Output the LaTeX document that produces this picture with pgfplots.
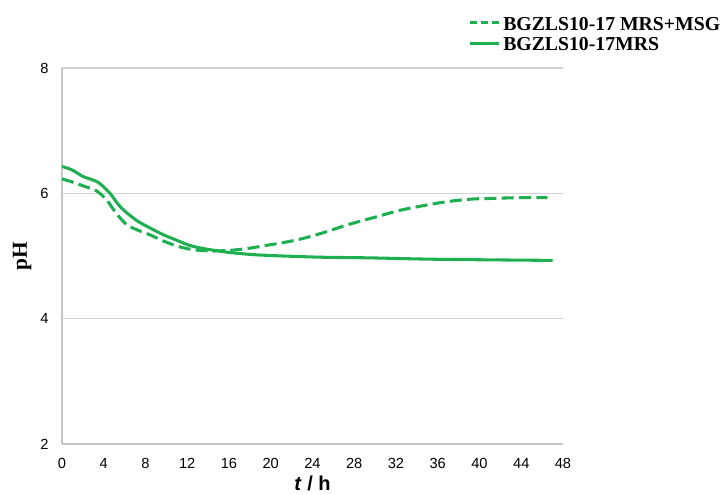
\documentclass[border=0pt]{standalone}
\usepackage{fontspec}
\setmainfont{Liberation Sans}
\newfontfamily\serif{Liberation Serif}
\usepackage{pgfplots}
\pgfplotsset{compat=1.18}
\definecolor{lgreen}{RGB}{30,176,80}
\begin{document}
\begin{tikzpicture}
% page = 721x495 px at 0.75pt per px, axis box 501x376 px
\useasboundingbox (-46.5pt,-38.25pt) rectangle (494.25pt,333pt);
\begin{axis}[
  scale only axis,
  width=375.75pt, height=282pt,
  xmin=0, xmax=48, ymin=2, ymax=8,
  xtick={0,4,...,48}, ytick={2,4,6,8},
  axis x line*=bottom, axis y line*=left,
  axis line style={draw=gray!45, line width=0.8pt},
  ymajorgrids, grid style={gray!35, line width=0.8pt},
  major tick length=0pt,
  tick label style={font=\fontsize{11}{13}\selectfont},
  /pgf/number format/assume math mode=true,
  xticklabel style={yshift=-7.5pt},
  yticklabel style={xshift=-6.5pt},
  xlabel={\fontsize{15}{17}\selectfont\bfseries\textit{t} / h},
  ylabel={\serif\fontsize{16}{18}\selectfont\bfseries pH},
  xlabel style={at={([yshift=-35pt]axis description cs:0.5,0)}, anchor=base},
  ylabel style={at={([xshift=-26.25pt]axis description cs:0,0.5)}, anchor=base},
  legend style={draw=none, fill=none, at={(0.81,1.136)}, anchor=north west,
    font=\serif\bfseries\fontsize{14.8}{17}\selectfont, row sep=4pt,
    inner sep=0pt, nodes={inner sep=0pt},
    /tikz/every odd column/.append style={column sep=2pt}},
  legend cell align=left,
  legend image code/.code={\draw[#1] (0pt,1.5pt) -- (22pt,1.5pt);},
]
\addlegendimage{lgreen, line width=2.4pt, dash pattern=on 5.5pt off 3pt}
\addlegendentry{BGZLS10-17 MRS+MSG}
\addlegendimage{lgreen, line width=2.4pt}
\addlegendentry{BGZLS10-17MRS}
\addplot[lgreen, line width=2.3pt, smooth, dash pattern=on 9pt off 4pt, forget plot] coordinates {
(0,6.23) (1,6.18) (2,6.12) (3.3,6.04) (4.3,5.89) (5.2,5.68) (6.2,5.50) (7.3,5.41) (8.4,5.34)
(9.7,5.24) (11.0,5.16) (12.2,5.11) (13.2,5.09) (14.5,5.08) (16.1,5.09) (17.8,5.12)
(19.6,5.17) (21.4,5.22) (23.1,5.28) (25.2,5.38) (27.4,5.50) (30,5.62) (32.4,5.73)
(35.5,5.83) (37.5,5.88) (39.4,5.91) (41.5,5.92) (43.5,5.93) (46.5,5.93)
};
\addplot[lgreen, line width=2.3pt, smooth, forget plot] coordinates {
(0,6.43) (1,6.37) (2,6.27) (3,6.21) (3.6,6.16) (4.6,6.00) (5.4,5.82) (6.2,5.69) (7.3,5.55)
(8.4,5.45) (9.7,5.34) (11.0,5.25) (12.2,5.17) (13.5,5.12) (15,5.08) (16.4,5.05) (18.5,5.02)
(21.2,5.00) (25,4.98) (29.5,4.97) (35,4.95) (40,4.94) (47,4.93)
};
\end{axis}
\end{tikzpicture}
\end{document}
